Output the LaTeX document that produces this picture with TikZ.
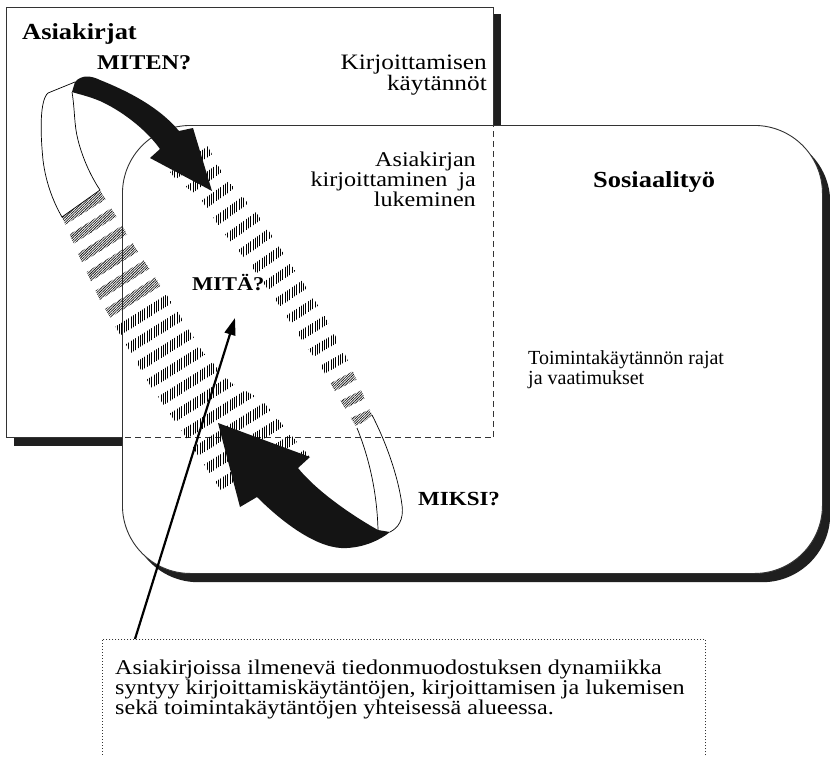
\documentclass[tikz,border=0pt]{standalone}
\usepackage{fontspec}
\setmainfont{Liberation Serif}[FakeStretch=1.15]
\newfontfamily\unstretched{Liberation Serif}
\usetikzlibrary{arrows.meta,decorations.markings,patterns.meta}

\begin{document}
\begin{tikzpicture}[x=1pt,y=-1pt,
  facebox/.style={draw=black!80, line width=0.9pt, fill=white, inner sep=0pt, anchor=north west},
  shadowbox/.style={fill=black!88, inner sep=0pt, anchor=north west},
  hidden/.style={draw=black!80, line width=1.1pt, dash pattern=on 6pt off 4pt},
  bandline/.style={draw=black, line width=0.7pt},
  arrowfill/.style={fill=black!92},
  darkstripe/.style={pattern={Lines[angle=45,distance=1.8pt,line width=0.75pt]}, pattern color=black!90},
  lightstripe/.style={pattern={Lines[angle=90,distance=2.3pt,line width=0.95pt]}, pattern color=black},
  plain/.style={inner sep=0pt, font=\fontsize{21}{19}\selectfont},
  heading/.style={inner sep=0pt, font=\fontsize{21}{19}\selectfont\bfseries},
  notebox/.style={draw=black!80, line width=0.8pt, dash pattern=on 1pt off 2pt, inner sep=0pt, anchor=north west},
  pointer/.style={draw=black, line width=2.2pt, -{Triangle[length=17pt,width=11pt]}}
]
\useasboundingbox (0,0) rectangle (830,756);
\fill[white] (0,0) rectangle (830,756);

% one hatched stripe of the band, placed in the frame of a marking;
% the fill itself is done in picture coordinates so the hatching stays upright
\newcommand\bandstripe[3]{%
  \coordinate (q1) at (0,-#2); \coordinate (q2) at (#3,-#2);
  \coordinate (q3) at (#3,#2); \coordinate (q4) at (0,#2);
  \pgftransformreset
  \fill[#1] (q1) -- (q2) -- (q3) -- (q4) -- cycle;}

% --- Asiakirjat box with its shadow
\node[shadowbox, minimum width=487pt, minimum height=432pt] (docsshadow) at (14,14) {};
\node[facebox, minimum width=487pt, minimum height=430pt] (docs) at (6,7) {};

% --- Sosiaalityö box with its shadow
\node[shadowbox, rounded corners=68pt, minimum width=700pt, minimum height=448pt] (socialshadow) at (130,134) {};
\node[facebox, rounded corners=68pt, minimum width=700pt, minimum height=448pt] (social) at (122,125) {};

% the part of the Asiakirjat box lying inside the Sosiaalityö box
\begin{scope}
  \clip[rounded corners=68pt] (social.north west) rectangle (social.south east);
  \draw[hidden] (docs.north west) rectangle (docs.south east);
\end{scope}

% --- hatched left strand of the loop
\begin{scope}
  \clip (62,217) -- (80,258) -- (100,300) -- (125,343) -- (150,385) -- (188,440) -- (226,498)
        -- (310,457) -- (262,400) -- (230,382) -- (203,352) -- (170,300) -- (135,247) -- (100,190) -- cycle;
  \path[decorate, decoration={markings,
      mark=between positions 0pt and 105pt step 20.5pt with {\bandstripe{darkstripe}{70}{10}},
      mark=between positions 123pt and 1 step 20.5pt with {\bandstripe{lightstripe}{70}{10}}}]
    (81,203) -- (262,491);
\end{scope}

% --- hatched right strand of the loop
\begin{scope}
  \clip (198,128) -- (215,160) -- (227,180) -- (253,208) -- (277,243) -- (300,278) -- (323,313)
        -- (343,350) -- (358,383) -- (372,415) -- (357,428) -- (340,400) -- (323,370) -- (300,337)
        -- (277,302) -- (252,267) -- (223,232) -- (200,198) -- (175,178) -- (160,160) -- cycle;
  \path[decorate, decoration={markings,
      mark=between positions 0pt and 250pt step 20.5pt with {\bandstripe{lightstripe}{60}{9}},
      mark=between positions 266.5pt and 1 step 20.5pt with {\bandstripe{darkstripe}{60}{9}}}]
    (195,155) .. controls (245,228) and (320,320) .. (365,422);
\end{scope}

% --- plain (white) parts of the band
\path[bandline, fill=white] (75,82) -- (48,93) .. controls (40,100) and (40,130) .. (43,160)
   .. controls (46,185) and (55,205) .. (62,217) -- (100,190)
   .. controls (92,178) and (83,160) .. (78,140) .. controls (74,125) and (75,110) .. (72,92);
\draw[bandline] (372,415) .. controls (385,440) and (398,475) .. (402,505)
   .. controls (404,520) and (398,528) .. (390,532);
\draw[bandline] (357,428) .. controls (368,455) and (377,490) .. (378,530);

% --- black arrows: MITEN? (top) and MIKSI? (bottom)
\fill[arrowfill] (75,82) .. controls (82,74) and (92,76) .. (100,80)
   .. controls (130,92) and (160,108) .. (179,131) -- (193,128) -- (212,191) -- (150,158) -- (160,149)
   .. controls (145,128) and (120,110) .. (100,101) .. controls (88,96) and (78,94) .. (72,92) -- cycle;
\fill[arrowfill] (378,530) .. controls (360,520) and (320,495) .. (298,468) -- (310,457) -- (218,423)
   -- (240,507) -- (257,497) .. controls (285,525) and (320,550) .. (347,548)
   .. controls (365,547) and (380,540) .. (390,532) -- cycle;

% --- labels
\node[heading, font=\fontsize{23}{19}\selectfont\bfseries, anchor=base west] (docstitle) at (22,39) {Asiakirjat};
\node[heading, anchor=base west] (how) at (97,69) {MITEN?};
\node[plain, font=\fontsize{22}{18}\selectfont, align=right, anchor=north east] (practices) at (487,55) {Kirjoittamisen\\käytännöt};
\node[plain, align=right, anchor=north east] (readwrite) at (476,152) {Asiakirjan\\kirjoittaminen\hspace{5pt} ja\\lukeminen};
\node[heading, font=\fontsize{23}{19}\selectfont\bfseries, anchor=base west] (socialtitle) at (593,187) {Sosiaalityö};
\node[heading, font=\fontsize{19.5}{19}\selectfont\bfseries, anchor=base west] (what) at (192,290) {MITÄ?};
\node[plain, font=\unstretched\fontsize{20}{20}\selectfont, align=left, anchor=north west] (limits) at (528,350) {Toimintakäytännön rajat\\ja vaatimukset};
\node[heading, font=\fontsize{20}{19}\selectfont\bfseries, anchor=base west] (why) at (418,505) {MIKSI?};

% --- explanatory note with its pointer
\node[notebox, minimum width=603pt, minimum height=140pt] (note) at (102,639) {};
\node[plain, align=left, anchor=north west] (notetext) at (115,660)
  {Asiakirjoissa ilmenevä tiedonmuodostuksen dynamiikka\\syntyy kirjoittamiskäytäntöjen, kirjoittamisen ja lukemisen\\sekä toimintakäytäntöjen yhteisessä alueessa.};
\coordinate (ptrfoot) at (135,639);
\coordinate (ptrtip) at (235,318);
\draw[pointer] (ptrfoot) -- (ptrtip);
\end{tikzpicture}
\end{document}
